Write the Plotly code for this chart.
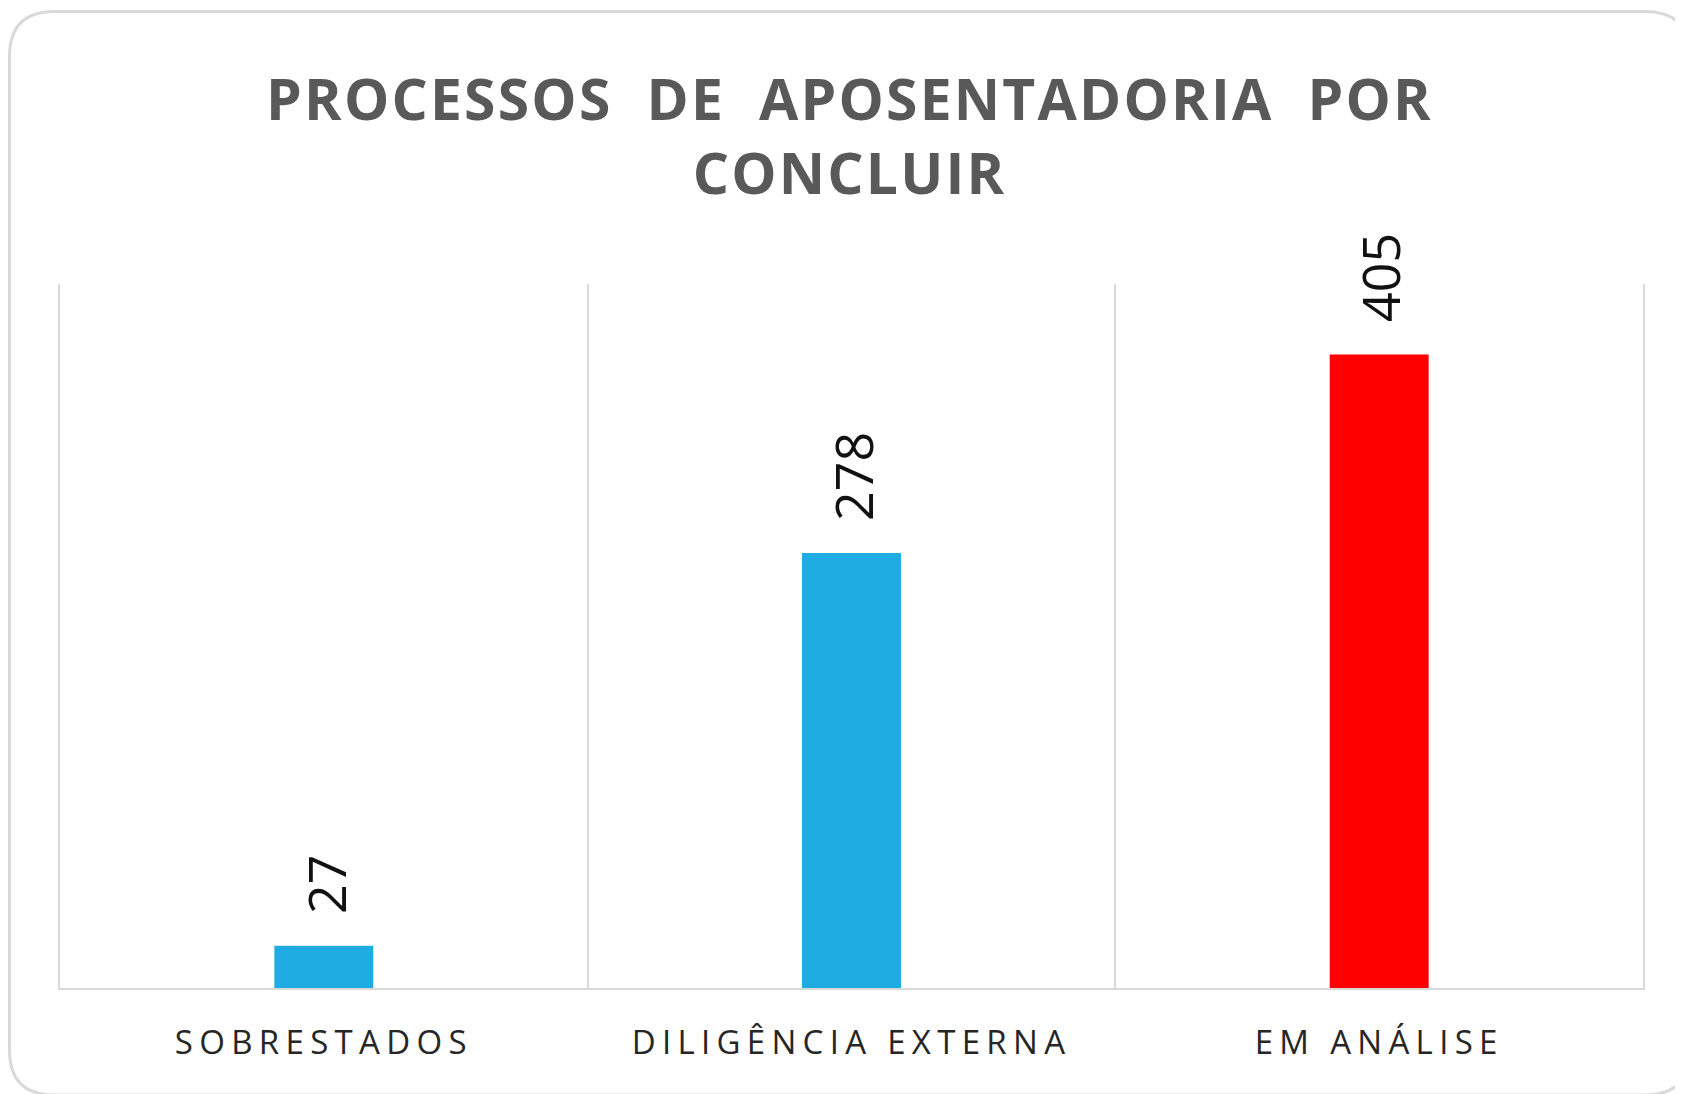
import plotly.graph_objects as go

categories = ["SOBRESTADOS", "DILIGÊNCIA EXTERNA", "EM ANÁLISE"]
values = [27, 278, 405]
bar_colors = ["#1EACE2", "#1EACE2", "#FF0000"]
title_lines = ["PROCESSOS  DE  APOSENTADORIA  POR", "CONCLUIR"]

W, H = 1683, 1094
L, R, T, B = 52, 48, 276, 114
pw, ph = W - L - R, H - T - B

fig = go.Figure()
fig.add_trace(go.Bar(
    x=categories, y=values, marker=dict(color=bar_colors, line=dict(width=0)),
    hoverinfo="x+y", cliponaxis=False,
))

for c, v in zip(categories, values):
    fig.add_annotation(
        x=c, y=v, xref="x", yref="y", text=str(v), showarrow=False,
        textangle=-90, yanchor="bottom", xanchor="center", yshift=30, xshift=1,
        font=dict(family="Open Sans", size=52, color="#111111"),
    )

ticktext = [f'<span style="letter-spacing:6.3px">{c}</span>' for c in categories]

fig.update_layout(
    width=W, height=H,
    margin=dict(l=L, r=R, t=T, b=B),
    paper_bgcolor="white", plot_bgcolor="white",
    showlegend=False, bargap=0.8125,
    title=dict(
        text='<span style="letter-spacing:2.2px">' + "<br>".join(title_lines) + "</span>",
        x=0.5, xanchor="center", y=1 - 112 / H, yanchor="middle",
        font=dict(family="Open Sans", size=57, color="#595959", weight="bold"),
    ),
    xaxis=dict(
        type="category", tickson="boundaries", showgrid=True, gridcolor="#d9d9d9",
        gridwidth=1.5, showline=True, linecolor="#d9d9d9", linewidth=2, ticks="",
        tickvals=categories, ticktext=ticktext, ticklabelstandoff=24,
        tickfont=dict(family="Open Sans", size=33, color="#262626"),
        zeroline=False,
    ),
    yaxis=dict(
        range=[0, 450], showgrid=False, showticklabels=False, zeroline=False,
        showline=True, mirror=True, linecolor="#d9d9d9", linewidth=1.5, ticks="",
    ),
)

# rounded chart border (paper coordinates)
x0, x1 = (1.5 - L) / pw, (1682 - L) / pw
y1, y0 = (H - B - 3.5) / ph, (H - B - 1087) / ph
rx, ry = 45 / pw, 45 / ph
path = (f"M {x0+rx},{y1} L {x1-rx},{y1} Q {x1},{y1} {x1},{y1-ry} "
        f"L {x1},{y0+ry} Q {x1},{y0} {x1-rx},{y0} L {x0+rx},{y0} "
        f"Q {x0},{y0} {x0},{y0+ry} L {x0},{y1-ry} Q {x0},{y1} {x0+rx},{y1} Z")
fig.add_shape(type="path", path=path, xref="paper", yref="paper",
              line=dict(color="#d9d9d9", width=3), layer="below")

fig.write_html("out.html")
